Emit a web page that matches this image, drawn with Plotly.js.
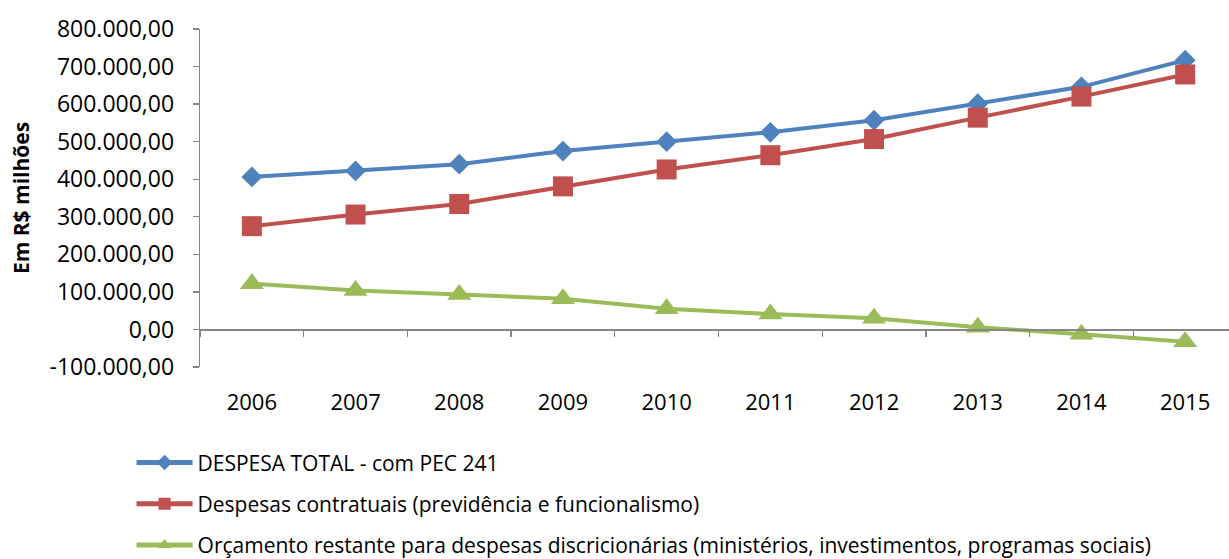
<!DOCTYPE html>
<html>
<head>
<meta charset="utf-8">
<script src="https://cdn.plot.ly/plotly-3.0.1.min.js"></script>
<style>
html, body { margin: 0; padding: 0; overflow: hidden; background: #ffffff; }
#chart { width: 1240px; height: 559px; }
</style>
</head>
<body>
<div id="chart"></div>
<script>
// ---- data (R$ milhões) ----
const years = ['2006', '2007', '2008', '2009', '2010', '2011', '2012', '2013', '2014', '2015'];
const despesaTotal = [406000, 422000, 440000, 475000, 500000, 525000, 557000, 601000, 646000, 717000];
const despesasContratuais = [275000, 306000, 334000, 381000, 426000, 464000, 507000, 564000, 620000, 679000];
const orcamentoRestante = [122000, 104000, 93000, 82000, 55000, 41000, 30000, 6000, -13000, -33000];

const seriesNames = [
  'DESPESA TOTAL - com PEC 241',
  'Despesas contratuais (previdência e funcionalismo)',
  'Orçamento restante para despesas discricionárias (ministérios, investimentos, programas sociais)'
];
const yTickVals = [-100000, 0, 100000, 200000, 300000, 400000, 500000, 600000, 700000, 800000];
const yTickText = ['-100.000,00', '0,00', '100.000,00', '200.000,00', '300.000,00', '400.000,00', '500.000,00', '600.000,00', '700.000,00', '800.000,00'];
const yTitle = 'Em R$ milhões';

const FONT = 'Open Sans, Noto Sans, Liberation Sans, sans-serif';
const AXIS_GRAY = '#868686';

const traces = [
  {
    x: years, y: despesaTotal, name: seriesNames[0], type: 'scatter', mode: 'lines+markers',
    legendgroup: 'a',
    line: { color: '#4F81BD', width: 4 },
    marker: { symbol: 'diamond', size: 16, color: '#4F81BD' }
  },
  {
    x: years, y: despesasContratuais, name: seriesNames[1], type: 'scatter', mode: 'lines+markers',
    legendgroup: 'b',
    line: { color: '#C0504D', width: 4 },
    marker: { symbol: 'square', size: 20, color: '#C0504D' }
  },
  {
    x: years, y: orcamentoRestante, name: seriesNames[2], type: 'scatter', mode: 'lines+markers',
    legendgroup: 'c',
    line: { color: '#9BBB59', width: 4 },
    marker: { symbol: 'triangle-up', size: 21, color: '#9BBB59' }
  },
  {
    // carrier for the bottom label axis (invisible)
    x: years, y: despesaTotal, xaxis: 'x2', type: 'scatter', mode: 'markers',
    marker: { opacity: 0, size: 1 }, showlegend: false, hoverinfo: 'skip'
  }
];

const layout = {
  width: 1240,
  height: 559,
  margin: { l: 200, r: 3, t: 29, b: 192, autoexpand: false },
  paper_bgcolor: '#ffffff',
  plot_bgcolor: '#ffffff',
  separators: ',.',
  font: { family: FONT, color: '#000000', size: 21 },
  showlegend: true,
  xaxis: {
    type: 'category',
    categoryorder: 'array',
    categoryarray: years,
    range: [-0.5, 9.5],
    anchor: 'free',
    position: 1 / 9,
    showline: true,
    linecolor: AXIS_GRAY,
    linewidth: 1.3,
    ticks: 'outside',
    tickson: 'boundaries',
    ticklen: 6,
    tickcolor: AXIS_GRAY,
    tickwidth: 1.3,
    showticklabels: false,
    showgrid: false,
    zeroline: false,
    fixedrange: true
  },
  xaxis2: {
    type: 'category',
    categoryorder: 'array',
    categoryarray: years,
    range: [-0.5, 9.5],
    overlaying: 'x',
    anchor: 'y',
    side: 'bottom',
    showline: false,
    ticks: '',
    showgrid: false,
    zeroline: false,
    ticklabelstandoff: 20,
    tickfont: { family: FONT, size: 22, color: '#000000' }
  },
  yaxis: {
    range: [-100000, 800000],
    tickvals: yTickVals,
    ticktext: yTickText,
    showline: true,
    linecolor: AXIS_GRAY,
    linewidth: 1.3,
    ticks: 'outside',
    ticklen: 6,
    tickcolor: AXIS_GRAY,
    tickwidth: 1.3,
    ticklabelstandoff: 14,
    showgrid: false,
    zeroline: false,
    tickfont: { family: FONT, size: 23, color: '#000000' },
    title: { text: yTitle, font: { family: FONT, size: 21, color: '#000000', weight: 'bold' }, standoff: 14 }
  },
  legend: {
    x: -0.066,
    xanchor: 'left',
    y: -0.223,
    yanchor: 'top',
    orientation: 'v',
    tracegroupgap: 11,
    itemwidth: 56,
    itemsizing: 'constant',
    font: { family: FONT, size: 21, color: '#000000' },
    bgcolor: 'rgba(0,0,0,0)'
  }
};

Plotly.newPlot('chart', traces, layout, { displayModeBar: false, staticPlot: true });
</script>
</body>
</html>
